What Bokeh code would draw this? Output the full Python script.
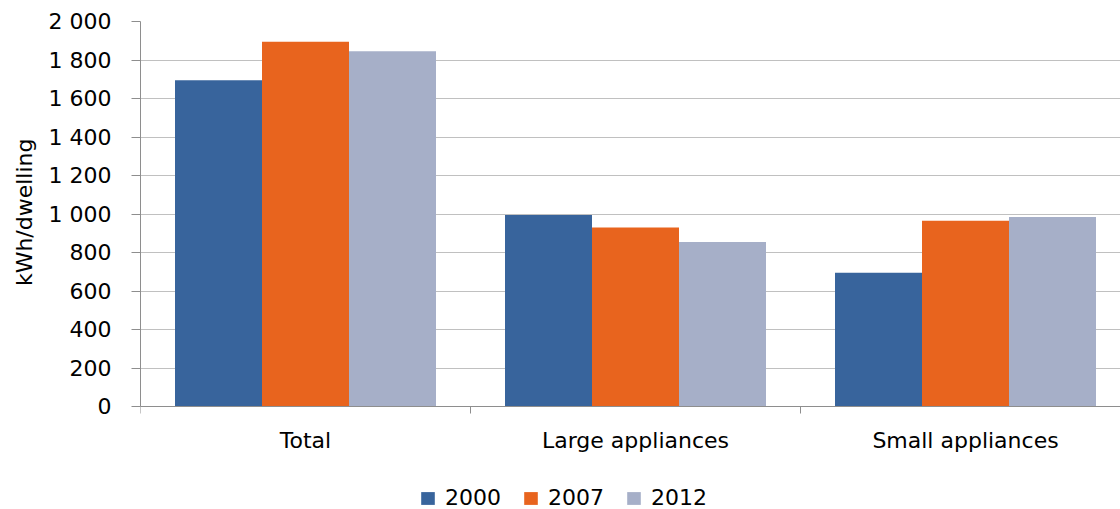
from bokeh.plotting import figure
from bokeh.models import Range1d, FixedTicker, Legend, LegendItem, Title
from bokeh.embed import file_html
from bokeh.resources import INLINE

categories = ["Total", "Large appliances", "Small appliances"]
years = ["2000", "2007", "2012"]
v2000 = [1695, 995, 695]
v2007 = [1895, 930, 965]
v2012 = [1845, 855, 985]
series = [v2000, v2007, v2012]
y_ticks = [0, 200, 400, 600, 800, 1000, 1200, 1400, 1600, 1800, 2000]
y_tick_labels = ["0", "200", "400", "600", "800", "1 000", "1 200", "1 400", "1 600", "1 800", "2 000"]
colors = ["#38649C", "#E8641E", "#A6AFC8"]

FONT = "DejaVu Sans"

# frame: top at 21px, value 0 at 406px, frame bottom at 509px
y_min = -2000 * 103 / 385
p = figure(width=1120, height=509,
           x_range=Range1d(0, 980 / 330), y_range=Range1d(y_min, 2000),
           output_backend="svg", toolbar_location=None,
           min_border_left=140, min_border_right=0, min_border_top=21, min_border_bottom=0)
p.outline_line_color = None
p.background_fill_color = "white"

bw = 87 / 330
offsets = [-bw, 0, bw]
renderers = []
for vals, off, col in zip(series, offsets, colors):
    xs = [i + 0.5 + off for i in range(len(categories))]
    r = p.vbar(x=xs, top=vals, width=bw, bottom=0, fill_color=col, line_color=None)
    renderers.append(r)

# y axis
p.yaxis.ticker = FixedTicker(ticks=y_ticks, minor_ticks=[])
p.yaxis.bounds = (0, 2000)
p.yaxis.major_label_overrides = {t: l for t, l in zip(y_ticks, y_tick_labels)}
p.yaxis.major_label_text_font = FONT
p.yaxis.major_label_text_font_size = "22px"
p.yaxis.major_label_text_color = "#000000"
p.yaxis.major_label_standoff = 20
p.yaxis.major_tick_out = 9
p.yaxis.major_tick_in = 0
p.yaxis.axis_line_color = "#8E8E8E"
p.yaxis.major_tick_line_color = "#8E8E8E"

ytitle = Title(text="kWh/dwelling", align="right", offset=117, standoff=18,
               text_font=FONT, text_font_size="22px", text_font_style="normal",
               text_color="#000000")
p.add_layout(ytitle, "left")

# x axis, fixed at value 0
p.xaxis.fixed_location = 0
p.xaxis.ticker = FixedTicker(ticks=[0.5, 1.5, 2.5], minor_ticks=[0, 1, 2])
p.xaxis.major_label_overrides = {0.5: categories[0], 1.5: categories[1], 2.5: categories[2]}
p.xaxis.major_label_text_font = FONT
p.xaxis.major_label_text_font_size = "22px"
p.xaxis.major_label_text_color = "#000000"
p.xaxis.major_tick_line_color = None
p.xaxis.major_tick_out = 0
p.xaxis.major_tick_in = 0
p.xaxis.major_label_standoff = 14
p.xaxis.minor_tick_out = 7
p.xaxis.minor_tick_in = 0
p.xaxis.minor_tick_line_color = "#8E8E8E"
p.xaxis.axis_line_color = "#8E8E8E"

p.xgrid.grid_line_color = None
p.ygrid.grid_line_color = "#808080"
p.ygrid.grid_line_dash = "1 1"
p.ygrid.grid_line_width = 1

legend = Legend(items=[LegendItem(label=y, renderers=[r]) for y, r in zip(years, renderers)],
                orientation="horizontal", location=(279, -1),
                glyph_width=17, glyph_height=16, label_standoff=9, spacing=21,
                padding=0, margin=0, border_line_color=None, background_fill_alpha=0,
                label_text_font=FONT, label_text_font_size="22px", label_text_color="#000000")
p.add_layout(legend, "center")

open("out.html", "w").write(file_html(p, INLINE))
